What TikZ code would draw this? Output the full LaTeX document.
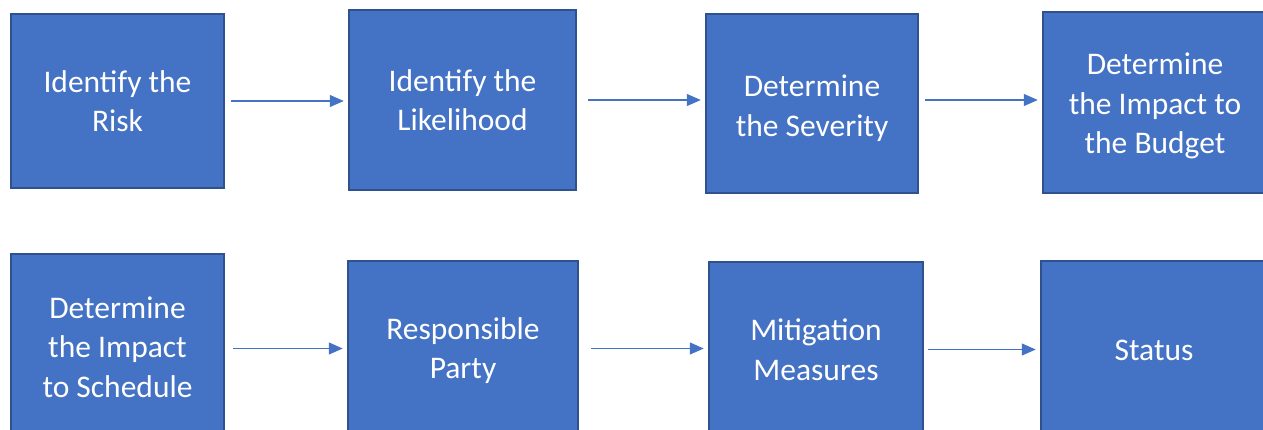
\documentclass[tikz,border=0pt]{standalone}
\usepackage{fontspec}
\setmainfont{Carlito}
\usetikzlibrary{arrows.meta}
\definecolor{boxfill}{HTML}{4472C4}
\definecolor{boxline}{HTML}{2F528F}
\tikzset{
  stepbox/.style={rectangle, fill=boxfill, draw=boxline, line width=1.5pt,
    text=white, align=center, inner sep=0pt,
    font=\fontsize{31.5}{39.5}\selectfont},
  steptext/.style={text=white, align=center, inner sep=0pt,
    font=\fontsize{31.5}{39.5}\selectfont},
  flow/.style={draw=boxfill, line width=1.3pt,
    -{Triangle[length=14pt,width=12pt]},
    shorten <=6pt, shorten >=4.5pt}
}
\begin{document}
\begin{tikzpicture}[x=1pt,y=-1pt]
\useasboundingbox (0,0) rectangle (1263,429);
\clip (0,0) rectangle (1263,429);
% top row
\node[stepbox, minimum width=213pt, minimum height=174pt] (a) at (117.5,101) {Identify the\\Risk};
\node[stepbox, minimum width=227pt, minimum height=180pt] (b) at (462.5,100) {Identify the\\Likelihood};
\node[stepbox, minimum width=212pt, minimum height=179pt] (c) at (812,103.5) {};
\node[steptext] (ct) at ([yshift=-4.5pt]c.center) {Determine\\the Severity};
\node[stepbox, minimum width=224pt, minimum height=181pt] (d) at (1155,102.5) {};
\node[steptext] (dt) at ([yshift=-3.5pt]d.center) {Determine\\the Impact to\\the Budget};
% bottom row
\node[stepbox, minimum width=213pt, minimum height=186pt] (e) at (117.5,347) {Determine\\the Impact\\to Schedule};
\node[stepbox, minimum width=230pt, minimum height=175pt] (f) at (463,348.5) {};
\node[steptext] (ft) at ([yshift=-2pt]f.center) {Responsible\\Party};
\node[stepbox, minimum width=214pt, minimum height=175pt] (g) at (816,349.5) {Mitigation\\Measures};
\node[stepbox, minimum width=226pt, minimum height=178pt] (h) at (1154,350) {Status};
% connectors
\draw[flow] (a.east) -- (a.east -| b.west);
\draw[flow, shorten <=11pt] (b.east) -- (b.east -| c.west);
\draw[flow] (c.east |- b.east) -- (d.west |- b.east);
\draw[flow, shorten <=8pt] (e.east |- f.east) -- (f.west);
\draw[flow, shorten <=12pt] (f.east) -- (f.east -| g.west);
\draw[flow, shorten <=4pt] (g.east) -- (g.east -| h.west);
\end{tikzpicture}
\end{document}
